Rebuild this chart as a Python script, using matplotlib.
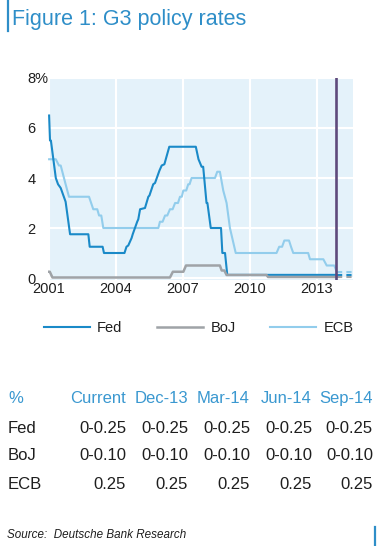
import matplotlib
matplotlib.use('Agg')
import matplotlib.pyplot as plt
from matplotlib.lines import Line2D

plt.rcParams['font.family'] = ['Liberation Sans', 'DejaVu Sans']

# ---------------- data ----------------
fed_x = [2001.00, 2001.04, 2001.08, 2001.19, 2001.30, 2001.40, 2001.52, 2001.74, 2001.94,
         2002.76, 2002.82, 2003.40, 2003.46, 2004.38, 2004.47, 2004.55, 2004.70, 2004.75,
         2004.95, 2005.00, 2005.08, 2005.30, 2005.45, 2005.50, 2005.67, 2005.75, 2005.95,
         2006.00, 2006.05, 2006.17, 2006.39, 2007.58, 2007.70, 2007.84, 2007.91, 2008.06,
         2008.10, 2008.25, 2008.71, 2008.77, 2008.89, 2008.99, 2013.87]
fed_y = [6.5, 5.5, 5.5, 4.75, 4.0, 3.75, 3.6, 3.05, 1.75,
         1.75, 1.25, 1.25, 1.0, 1.0, 1.25, 1.3, 1.6, 1.75,
         2.25, 2.35, 2.75, 2.8, 3.25, 3.3, 3.75, 3.8, 4.3,
         4.4, 4.5, 4.55, 5.25, 5.25, 4.75, 4.45, 4.45, 3.0,
         3.0, 2.0, 2.0, 1.0, 1.0, 0.125, 0.125]

boj_x = [2001.00, 2001.03, 2001.15, 2006.42, 2006.55, 2007.02, 2007.14, 2008.66,
         2008.74, 2008.86, 2008.96, 2010.75, 2010.82, 2013.87]
boj_y = [0.25, 0.25, 0.02, 0.02, 0.25, 0.25, 0.5, 0.5,
         0.3, 0.3, 0.12, 0.12, 0.04, 0.04]

ecb_x = [2001.00, 2001.30, 2001.44, 2001.52, 2001.74, 2001.89, 2002.79, 2002.98, 2003.16,
         2003.24, 2003.34, 2003.43, 2005.90, 2005.97, 2006.09, 2006.20, 2006.30, 2006.42,
         2006.54, 2006.65, 2006.78, 2006.87, 2006.95, 2007.02, 2007.15, 2007.24, 2007.30,
         2007.39, 2008.44, 2008.54, 2008.66, 2008.81, 2008.96, 2009.11, 2009.37, 2011.20,
         2011.32, 2011.45, 2011.55, 2011.76, 2011.85, 2011.95, 2012.62, 2012.70, 2013.30,
         2013.45, 2013.79, 2013.90]
ecb_y = [4.75, 4.75, 4.5, 4.5, 3.75, 3.25, 3.25, 2.75, 2.75,
         2.5, 2.5, 2.0, 2.0, 2.25, 2.25, 2.5, 2.5, 2.75,
         2.75, 3.0, 3.0, 3.25, 3.25, 3.5, 3.5, 3.75, 3.75,
         4.0, 4.0, 4.25, 4.25, 3.5, 3.0, 2.0, 1.0, 1.0,
         1.25, 1.25, 1.5, 1.5, 1.25, 1.0, 1.0, 0.75, 0.75,
         0.5, 0.5, 0.25]

forecast_x = [2013.93, 2014.63]
fed_fc = [0.125, 0.125]
boj_fc = [0.04, 0.04]
ecb_fc = [0.25, 0.25]
now_x = 2013.85

series_names = ['Fed', 'BoJ', 'ECB']
table_cols = ['Current', 'Dec-13', 'Mar-14', 'Jun-14', 'Sep-14']
table_rows = {
    'Fed': ['0-0.25', '0-0.25', '0-0.25', '0-0.25', '0-0.25'],
    'BoJ': ['0-0.10', '0-0.10', '0-0.10', '0-0.10', '0-0.10'],
    'ECB': ['0.25', '0.25', '0.25', '0.25', '0.25'],
}
x_ticks = [2001, 2004, 2007, 2010, 2013]
y_ticks = [0, 2, 4, 6, 8]
y_ticklabels = ['0', '2', '4', '6', '8%']

# ---------------- styling ----------------
W, H, DPI = 377, 546, 100
C_FED = '#1a8ac8'
C_BOJ = '#9fa3a7'
C_ECB = '#92cdec'
C_BG = '#e4f2fa'
C_TITLE = '#2e8ec8'
C_HEAD = '#3a98d0'
C_NOW = '#5e4a7c'
C_TXT = '#1e1e1e'

fig = plt.figure(figsize=(W / DPI, H / DPI), dpi=DPI)


def fx(x):
    return x / W


def fy(y):
    return 1 - y / H


ax = fig.add_axes([fx(48), fy(280), (353 - 48) / W, (280 - 78) / H])
ax.set_facecolor(C_BG)
for s in ax.spines.values():
    s.set_visible(False)
ax.set_xlim(2000.95, 2014.63)
ax.set_ylim(-0.08, 8.0)
ax.set_xticks(x_ticks)
ax.set_xticklabels([str(t) for t in x_ticks])
ax.set_yticks(y_ticks)
ax.set_yticklabels(y_ticklabels)
ax.grid(True, color='white', lw=1.5)
ax.set_axisbelow(True)
ax.tick_params(length=0, labelsize=10.5, colors=C_TXT)
ax.tick_params(axis='x', pad=1.5)
ax.tick_params(axis='y', pad=15)
for t in ax.get_yticklabels():
    t.set_ha('left')

ax.plot(ecb_x, ecb_y, color=C_ECB, lw=1.5, zorder=2, solid_joinstyle='round')
ax.plot(fed_x, fed_y, color=C_FED, lw=1.5, zorder=3, solid_joinstyle='round')
ax.plot(boj_x, boj_y, color=C_BOJ, lw=1.8, zorder=4, solid_joinstyle='round')

ax.plot(forecast_x, ecb_fc, color=C_ECB, lw=1.5, ls=(0, (2.5, 2)), zorder=3)
ax.plot(forecast_x, fed_fc, color=C_FED, lw=1.5, ls=(0, (2.5, 2)), zorder=3)
ax.plot(forecast_x, boj_fc, color=C_BOJ, lw=1.5, ls=(0, (2.5, 2)), zorder=3)

ax.axvline(now_x, color=C_NOW, lw=1.9, zorder=6)

# legend
handles = [Line2D([], [], color=C_FED, lw=1.5),
           Line2D([], [], color=C_BOJ, lw=1.8),
           Line2D([], [], color=C_ECB, lw=1.5)]
fig.legend(handles, series_names, loc='center left', bbox_to_anchor=(fx(44), fy(328)),
           ncol=3, frameon=False, fontsize=10.5, handlelength=3.15, handletextpad=0.48,
           columnspacing=2.4, borderpad=0, borderaxespad=0, labelcolor=C_TXT)

# title + decorative bars
fig.text(fx(12), fy(25), 'Figure 1: G3 policy rates', fontsize=15.5, color=C_TITLE,
         ha='left', va='baseline')
fig.add_artist(Line2D([fx(7.5), fx(7.5)], [fy(0), fy(30.5)], color=C_TITLE, lw=1.6))
fig.add_artist(Line2D([fx(375), fx(375)], [fy(527), fy(546)], color=C_TITLE, lw=1.6))

# table
col_right = [126, 188, 250, 312, 373]
row_base = {'hdr': 402.7, 'Fed': 432.7, 'BoJ': 459.5, 'ECB': 489}
fig.text(fx(8), fy(row_base['hdr']), '%', fontsize=12, color=C_HEAD, ha='left', va='baseline')
for c, xr in zip(table_cols, col_right):
    fig.text(fx(xr), fy(row_base['hdr']), c, fontsize=12, color=C_HEAD, ha='right', va='baseline')
for name in series_names:
    fig.text(fx(8), fy(row_base[name]), name, fontsize=12, color=C_TXT, ha='left', va='baseline')
    for v, xr in zip(table_rows[name], col_right):
        fig.text(fx(xr), fy(row_base[name]), v, fontsize=12, color=C_TXT, ha='right', va='baseline')

fig.text(fx(7), fy(537.7), 'Source:  Deutsche Bank Research', fontsize=8.4, style='italic',
         color=C_TXT, ha='left', va='baseline')

fig.savefig('out.png', dpi=DPI)
